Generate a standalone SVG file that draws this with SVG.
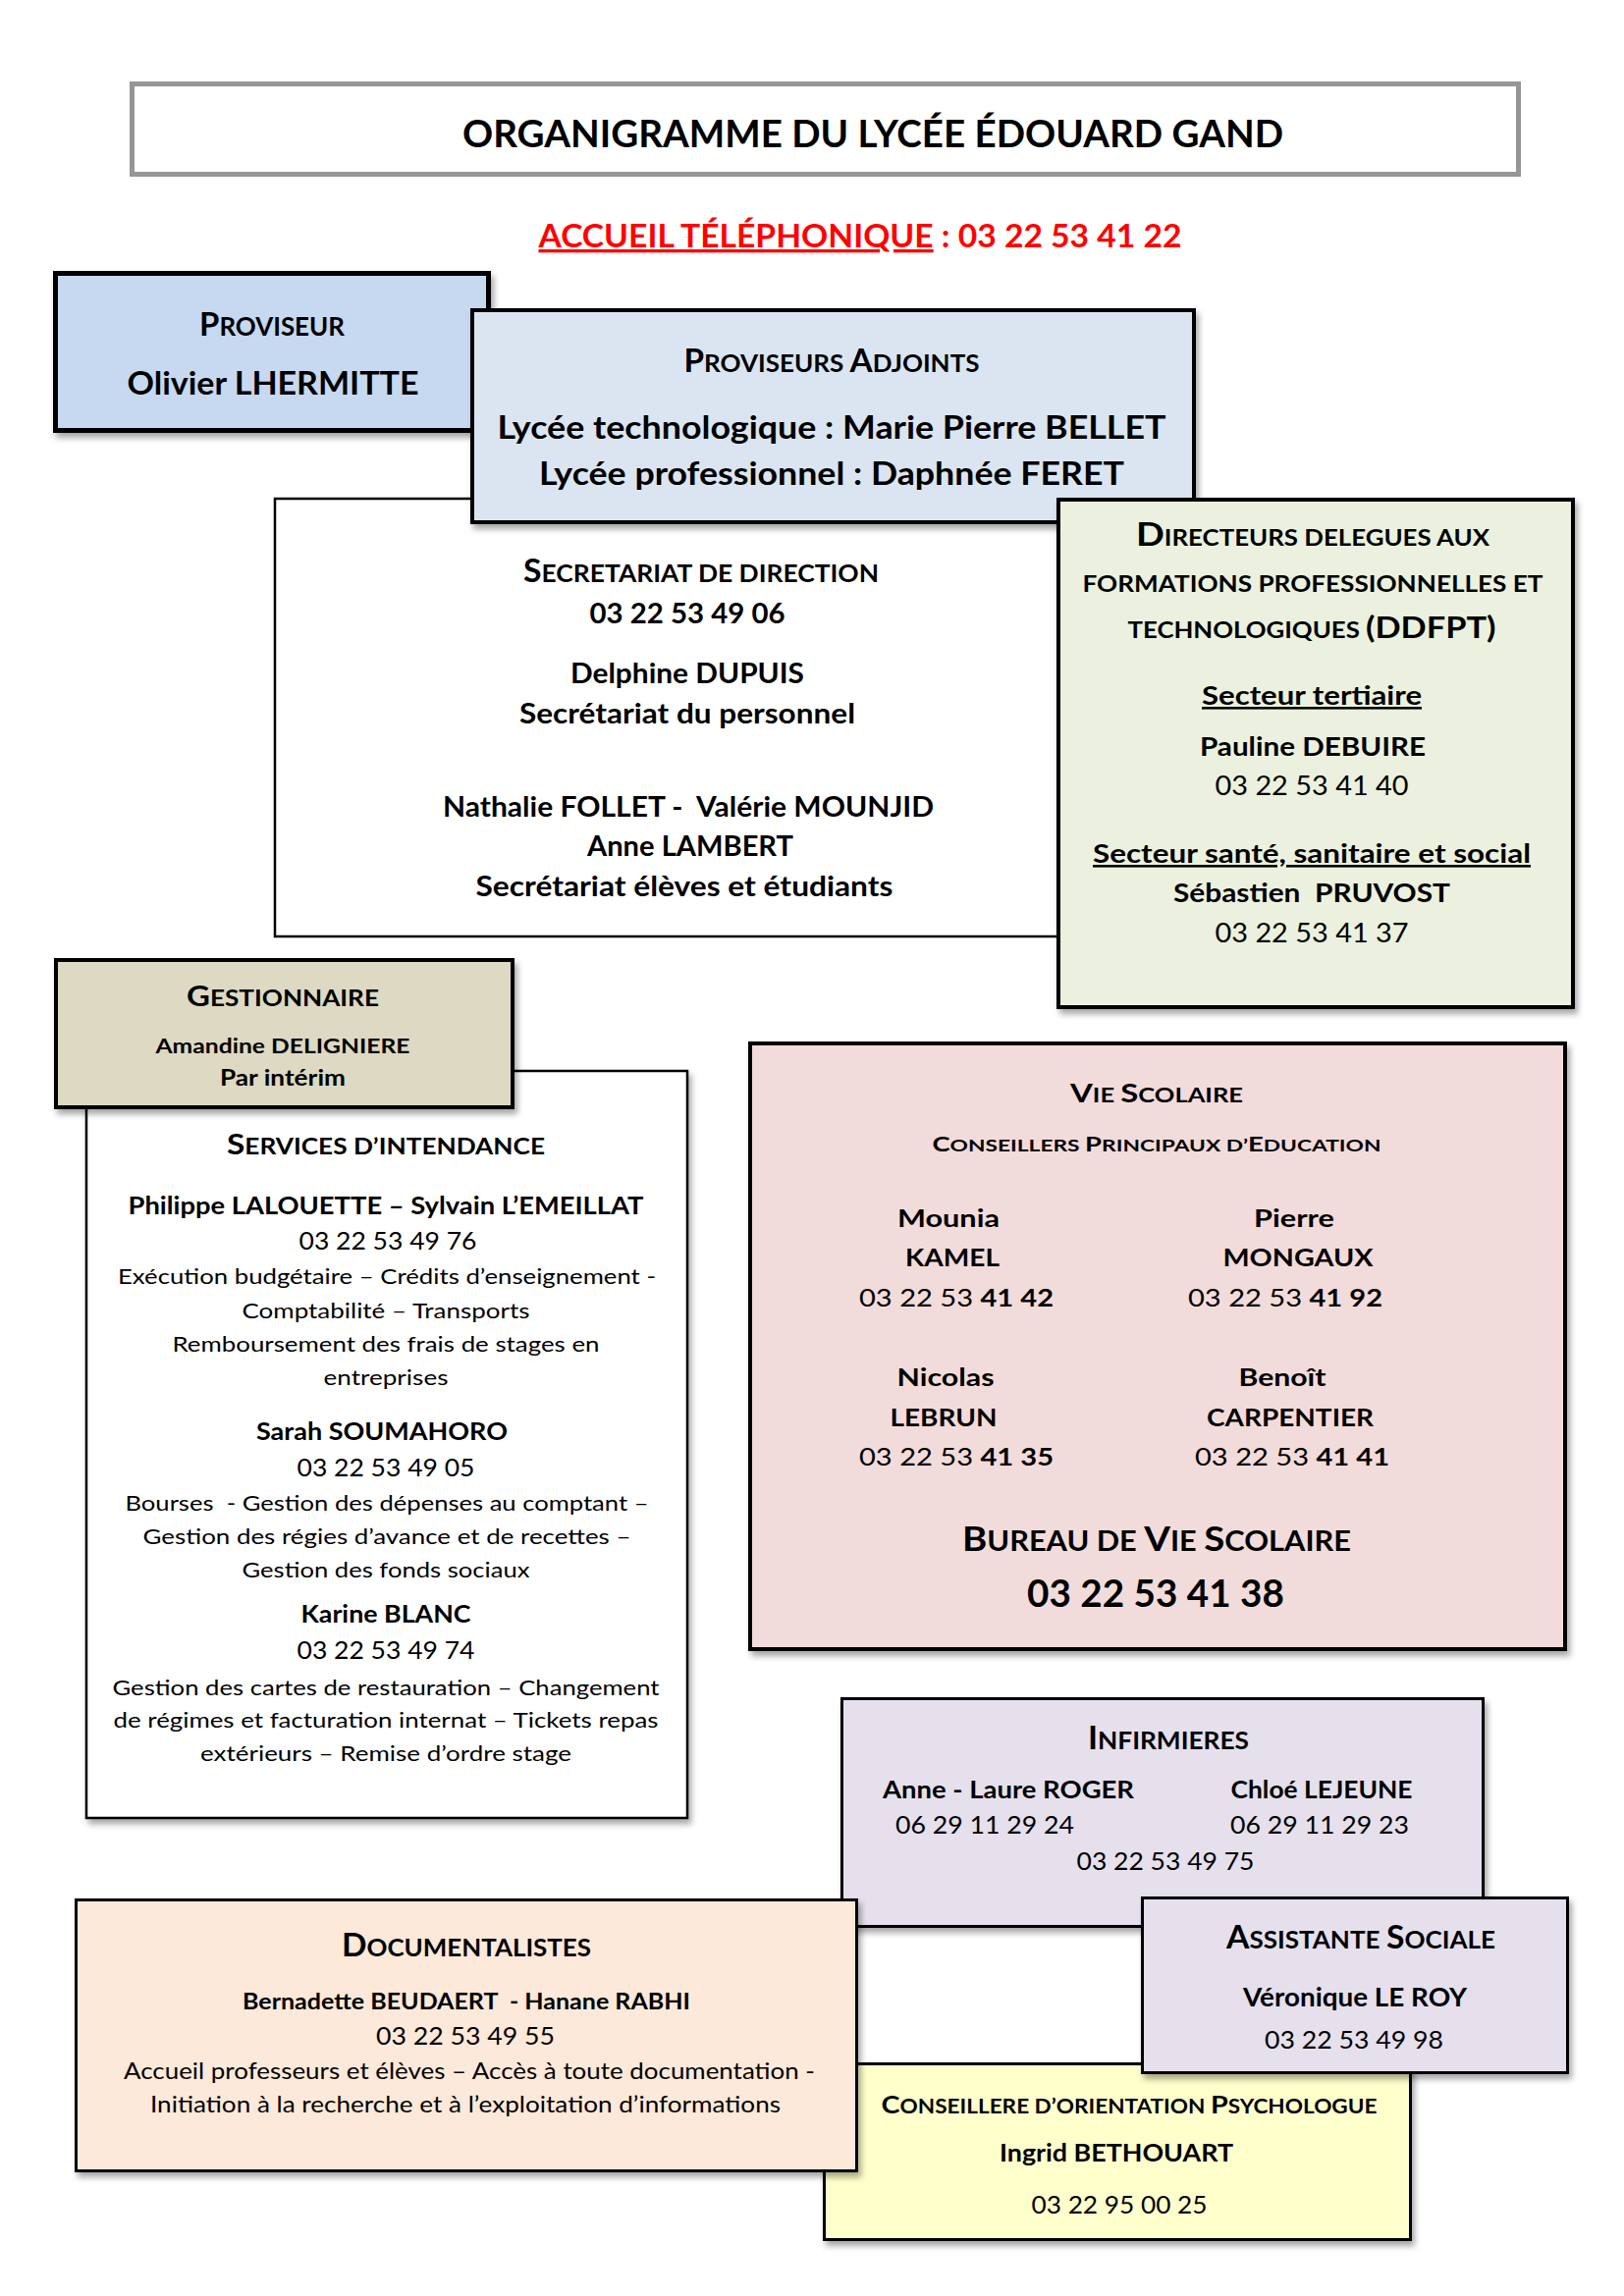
<svg xmlns="http://www.w3.org/2000/svg" width="1654" height="2339" viewBox="0 0 1654 2339">
<defs>
<filter id="sh" x="-5%" y="-5%" width="115%" height="115%">
<feDropShadow dx="3" dy="5" stdDeviation="3" flood-color="#000" flood-opacity="0.35"/>
</filter>
</defs>
<style>
text{font-family:Lato,"Open Sans","Liberation Sans",sans-serif;fill:#000;text-anchor:middle}
.b{font-weight:700}
.r{font-weight:400}
.box{stroke:#000}
.u{text-decoration:underline}
.pre{white-space:pre}
</style>
<rect width="1654" height="2339" fill="#fff"/>

<g id="title">
<rect x="134.5" y="85.5" width="1412" height="92" fill="#fff" stroke="#969696" stroke-width="5"/>
<text class="b" x="889" y="150" font-size="39" textLength="836" lengthAdjust="spacingAndGlyphs">ORGANIGRAMME DU LYCÉE ÉDOUARD GAND</text>
</g>

<g id="accueil">
<text class="b" x="876" y="252" font-size="33" textLength="655" lengthAdjust="spacingAndGlyphs" style="fill:#ff0000"><tspan class="u" style="fill:#ff0000">ACCUEIL TÉLÉPHONIQUE</tspan> : 03 22 53 41 22</text>
</g>

<g id="secretariat">
<rect x="280" y="508" width="805" height="446" fill="#fff" stroke="#000" stroke-width="2.5"/>
<text class="b" x="714" y="593" font-size="25" textLength="362" lengthAdjust="spacingAndGlyphs"><tspan font-size="32">S</tspan>ECRETARIAT DE DIRECTION</text>
<text class="b" x="700" y="635" font-size="28" textLength="199" lengthAdjust="spacingAndGlyphs">03 22 53 49 06</text>
<text class="b" x="700" y="696" font-size="28" textLength="238" lengthAdjust="spacingAndGlyphs">Delphine DUPUIS</text>
<text class="b" x="700" y="737" font-size="28" textLength="342" lengthAdjust="spacingAndGlyphs">Secrétariat du personnel</text>
<text class="b pre" xml:space="preserve" x="701" y="832" font-size="28" textLength="500" lengthAdjust="spacingAndGlyphs">Nathalie FOLLET -  Valérie MOUNJID</text>
<text class="b" x="703" y="872" font-size="28" textLength="210" lengthAdjust="spacingAndGlyphs">Anne LAMBERT</text>
<text class="b" x="697" y="913" font-size="28" textLength="425" lengthAdjust="spacingAndGlyphs">Secrétariat élèves et étudiants</text>
</g>

<g id="proviseur">
<rect x="56.5" y="278.5" width="441" height="160" fill="#c6d9f1" stroke="#000" stroke-width="5" filter="url(#sh)"/>
<text class="b" x="277" y="342" font-size="26" textLength="148" lengthAdjust="spacingAndGlyphs"><tspan font-size="33">P</tspan>ROVISEUR</text>
<text class="b" x="278" y="402" font-size="33" textLength="297" lengthAdjust="spacingAndGlyphs">Olivier LHERMITTE</text>
</g>

<g id="adjoints">
<rect x="481" y="316" width="735" height="216" fill="#dbe5f1" stroke="#000" stroke-width="4" filter="url(#sh)"/>
<text class="b" x="847" y="379" font-size="25" textLength="301" lengthAdjust="spacingAndGlyphs"><tspan font-size="32">P</tspan>ROVISEURS <tspan font-size="32">A</tspan>DJOINTS</text>
<text class="b" x="847" y="447" font-size="33" textLength="681" lengthAdjust="spacingAndGlyphs">Lycée technologique : Marie Pierre BELLET</text>
<text class="b" x="847" y="494" font-size="33" textLength="596" lengthAdjust="spacingAndGlyphs">Lycée professionnel : Daphnée FERET</text>
</g>

<g id="ddfpt">
<rect x="1078" y="509" width="524" height="517" fill="#ebf1de" stroke="#000" stroke-width="4" filter="url(#sh)"/>
<text class="b" x="1337" y="556" font-size="22.5" textLength="360" lengthAdjust="spacingAndGlyphs"><tspan font-size="33">D</tspan>IRECTEURS DELEGUES AUX</text>
<text class="b" x="1337" y="603" font-size="22.5" textLength="469" lengthAdjust="spacingAndGlyphs">FORMATIONS PROFESSIONNELLES ET</text>
<text class="b" x="1336" y="650" font-size="22.5" textLength="375" lengthAdjust="spacingAndGlyphs">TECHNOLOGIQUES <tspan font-size="30">(DDFPT)</tspan></text>
<text class="b u" x="1336" y="718" font-size="26" textLength="224" lengthAdjust="spacingAndGlyphs">Secteur tertiaire</text>
<text class="b" x="1337" y="770" font-size="27" textLength="230" lengthAdjust="spacingAndGlyphs">Pauline DEBUIRE</text>
<text class="r" x="1336" y="810" font-size="27" textLength="197" lengthAdjust="spacingAndGlyphs">03 22 53 41 40</text>
<text class="b u" x="1336" y="879" font-size="26" textLength="446" lengthAdjust="spacingAndGlyphs">Secteur santé, sanitaire et social</text>
<text class="b pre" xml:space="preserve" x="1336" y="919" font-size="27" textLength="282" lengthAdjust="spacingAndGlyphs">Sébastien  PRUVOST</text>
<text class="r" x="1336" y="960" font-size="27" textLength="197" lengthAdjust="spacingAndGlyphs">03 22 53 41 37</text>
</g>

<g id="intendance">
<rect x="88" y="1091" width="612" height="761" fill="#fff" stroke="#000" stroke-width="2.5" filter="url(#sh)"/>
<text class="b" x="393" y="1176" font-size="22" textLength="324" lengthAdjust="spacingAndGlyphs"><tspan font-size="28">S</tspan>ERVICES D’INTENDANCE</text>
<text class="b" x="393" y="1237" font-size="25.5" textLength="525" lengthAdjust="spacingAndGlyphs">Philippe LALOUETTE – Sylvain L’EMEILLAT</text>
<text class="r" x="395" y="1273" font-size="25.5" textLength="181" lengthAdjust="spacingAndGlyphs">03 22 53 49 76</text>
<text class="r" x="394" y="1308" font-size="22" textLength="548" lengthAdjust="spacingAndGlyphs">Exécution budgétaire – Crédits d’enseignement -</text>
<text class="r" x="393" y="1343" font-size="22" textLength="293" lengthAdjust="spacingAndGlyphs">Comptabilité – Transports</text>
<text class="r" x="393" y="1377" font-size="22" textLength="435" lengthAdjust="spacingAndGlyphs">Remboursement des frais de stages en</text>
<text class="r" x="393" y="1411" font-size="22" textLength="127" lengthAdjust="spacingAndGlyphs">entreprises</text>
<text class="b" x="389" y="1467" font-size="25.5" textLength="256" lengthAdjust="spacingAndGlyphs">Sarah SOUMAHORO</text>
<text class="r" x="393" y="1504" font-size="25.5" textLength="181" lengthAdjust="spacingAndGlyphs">03 22 53 49 05</text>
<text class="r pre" xml:space="preserve" x="394" y="1539" font-size="22" textLength="533" lengthAdjust="spacingAndGlyphs">Bourses  - Gestion des dépenses au comptant –</text>
<text class="r" x="394" y="1573" font-size="22" textLength="497" lengthAdjust="spacingAndGlyphs">Gestion des régies d’avance et de recettes –</text>
<text class="r" x="393" y="1607" font-size="22" textLength="293" lengthAdjust="spacingAndGlyphs">Gestion des fonds sociaux</text>
<text class="b" x="393" y="1653" font-size="25.5" textLength="173" lengthAdjust="spacingAndGlyphs">Karine BLANC</text>
<text class="r" x="393" y="1690" font-size="25.5" textLength="181" lengthAdjust="spacingAndGlyphs">03 22 53 49 74</text>
<text class="r" x="393" y="1727" font-size="22" textLength="557" lengthAdjust="spacingAndGlyphs">Gestion des cartes de restauration – Changement</text>
<text class="r" x="393" y="1760" font-size="22" textLength="555" lengthAdjust="spacingAndGlyphs">de régimes et facturation internat – Tickets repas</text>
<text class="r" x="393" y="1794" font-size="22" textLength="378" lengthAdjust="spacingAndGlyphs">extérieurs – Remise d’ordre stage</text>
</g>

<g id="gestionnaire">
<rect x="57" y="978" width="465" height="150" fill="#ddd9c3" stroke="#000" stroke-width="4" filter="url(#sh)"/>
<text class="b" x="288" y="1025" font-size="23" textLength="196" lengthAdjust="spacingAndGlyphs"><tspan font-size="29">G</tspan>ESTIONNAIRE</text>
<text class="b" x="288" y="1073" font-size="21" textLength="259" lengthAdjust="spacingAndGlyphs">Amandine DELIGNIERE</text>
<text class="b" x="288" y="1106" font-size="22" textLength="128" lengthAdjust="spacingAndGlyphs">Par intérim</text>
</g>

<g id="vie-scolaire">
<rect x="764" y="1063" width="830" height="617" fill="#f2dcdb" stroke="#000" stroke-width="4" filter="url(#sh)"/>
<text class="b" x="1178" y="1123" font-size="20.5" textLength="176" lengthAdjust="spacingAndGlyphs"><tspan font-size="26.5">V</tspan>IE <tspan font-size="26.5">S</tspan>COLAIRE</text>
<text class="b" x="1178" y="1173" font-size="17" textLength="457" lengthAdjust="spacingAndGlyphs"><tspan font-size="20.5">C</tspan>ONSEILLERS <tspan font-size="20.5">P</tspan>RINCIPAUX D’<tspan font-size="20.5">E</tspan>DUCATION</text>
<text class="b" x="966" y="1250" font-size="25.5" textLength="104" lengthAdjust="spacingAndGlyphs">Mounia</text>
<text class="b" x="970" y="1290" font-size="25.5" textLength="96" lengthAdjust="spacingAndGlyphs">KAMEL</text>
<text class="r" x="974" y="1331" font-size="25.5" textLength="198" lengthAdjust="spacingAndGlyphs">03 22 53 <tspan class="b">41 42</tspan></text>
<text class="b" x="1318" y="1250" font-size="25.5" textLength="82" lengthAdjust="spacingAndGlyphs">Pierre</text>
<text class="b" x="1322" y="1290" font-size="25.5" textLength="153" lengthAdjust="spacingAndGlyphs">MONGAUX</text>
<text class="r" x="1309" y="1331" font-size="25.5" textLength="198" lengthAdjust="spacingAndGlyphs">03 22 53 <tspan class="b">41 92</tspan></text>
<text class="b" x="963" y="1412" font-size="25.5" textLength="99" lengthAdjust="spacingAndGlyphs">Nicolas</text>
<text class="b" x="961" y="1453" font-size="25.5" textLength="109" lengthAdjust="spacingAndGlyphs">LEBRUN</text>
<text class="r" x="974" y="1493" font-size="25.5" textLength="198" lengthAdjust="spacingAndGlyphs">03 22 53 <tspan class="b">41 35</tspan></text>
<text class="b" x="1306" y="1412" font-size="25.5" textLength="89" lengthAdjust="spacingAndGlyphs">Benoît</text>
<text class="b" x="1314" y="1453" font-size="25.5" textLength="170" lengthAdjust="spacingAndGlyphs">CARPENTIER</text>
<text class="r" x="1316" y="1493" font-size="25.5" textLength="198" lengthAdjust="spacingAndGlyphs">03 22 53 <tspan class="b">41 41</tspan></text>
<text class="b" x="1178" y="1580" font-size="28" textLength="396" lengthAdjust="spacingAndGlyphs"><tspan font-size="35">B</tspan>UREAU DE <tspan font-size="35">V</tspan>IE <tspan font-size="35">S</tspan>COLAIRE</text>
<text class="b" x="1177" y="1637" font-size="37.5" textLength="262" lengthAdjust="spacingAndGlyphs">03 22 53 41 38</text>
</g>

<g id="infirmieres">
<rect x="857.5" y="1730.5" width="653" height="232" fill="#e5e0ec" stroke="#000" stroke-width="3" filter="url(#sh)"/>
<text class="b" x="1190" y="1782" font-size="25.5" textLength="164" lengthAdjust="spacingAndGlyphs"><tspan font-size="33">I</tspan>NFIRMIERES</text>
<text class="b" x="1027" y="1832" font-size="25.5" textLength="256" lengthAdjust="spacingAndGlyphs">Anne - Laure ROGER</text>
<text class="b" x="1346" y="1832" font-size="25.5" textLength="185" lengthAdjust="spacingAndGlyphs">Chloé LEJEUNE</text>
<text class="r" x="1003" y="1868" font-size="25.5" textLength="182" lengthAdjust="spacingAndGlyphs">06 29 11 29 24</text>
<text class="r" x="1344" y="1868" font-size="25.5" textLength="182" lengthAdjust="spacingAndGlyphs">06 29 11 29 23</text>
<text class="r" x="1187" y="1905" font-size="25.5" textLength="181" lengthAdjust="spacingAndGlyphs">03 22 53 49 75</text>
</g>

<g id="conseillere">
<rect x="839.5" y="2102.5" width="597" height="179" fill="#ffffcc" stroke="#000" stroke-width="3" filter="url(#sh)"/>
<text class="b" x="1150" y="2153" font-size="20" textLength="505" lengthAdjust="spacingAndGlyphs"><tspan font-size="25.5">C</tspan>ONSEILLERE D’ORIENTATION <tspan font-size="25.5">P</tspan>SYCHOLOGUE</text>
<text class="b" x="1137" y="2202" font-size="25.5" textLength="238" lengthAdjust="spacingAndGlyphs">Ingrid BETHOUART</text>
<text class="r" x="1140" y="2255" font-size="25.5" textLength="179" lengthAdjust="spacingAndGlyphs">03 22 95 00 25</text>
</g>

<g id="documentalistes">
<rect x="77.5" y="1935.5" width="795" height="276" fill="#fde9d9" stroke="#000" stroke-width="3" filter="url(#sh)"/>
<text class="b" x="475" y="1993" font-size="25.5" textLength="254" lengthAdjust="spacingAndGlyphs"><tspan font-size="33">D</tspan>OCUMENTALISTES</text>
<text class="b pre" xml:space="preserve" x="475" y="2047" font-size="23" textLength="456" lengthAdjust="spacingAndGlyphs">Bernadette BEUDAERT  - Hanane RABHI</text>
<text class="r" x="474" y="2083" font-size="24.5" textLength="182" lengthAdjust="spacingAndGlyphs">03 22 53 49 55</text>
<text class="r" x="478" y="2118" font-size="23" textLength="704" lengthAdjust="spacingAndGlyphs">Accueil professeurs et élèves – Accès à toute documentation -</text>
<text class="r" x="474" y="2152" font-size="23" textLength="642" lengthAdjust="spacingAndGlyphs">Initiation à la recherche et à l’exploitation d’informations</text>
</g>

<g id="assistante-sociale">
<rect x="1163.5" y="1933.5" width="433" height="178" fill="#e5e0ec" stroke="#000" stroke-width="3" filter="url(#sh)"/>
<text class="b" x="1386" y="1985" font-size="25.5" textLength="274" lengthAdjust="spacingAndGlyphs"><tspan font-size="33">A</tspan>SSISTANTE <tspan font-size="33">S</tspan>OCIALE</text>
<text class="b" x="1380" y="2044" font-size="27" textLength="228" lengthAdjust="spacingAndGlyphs">Véronique LE ROY</text>
<text class="r" x="1379" y="2087" font-size="25.5" textLength="182" lengthAdjust="spacingAndGlyphs">03 22 53 49 98</text>
</g>

<g id="connectors"></g>
</svg>
